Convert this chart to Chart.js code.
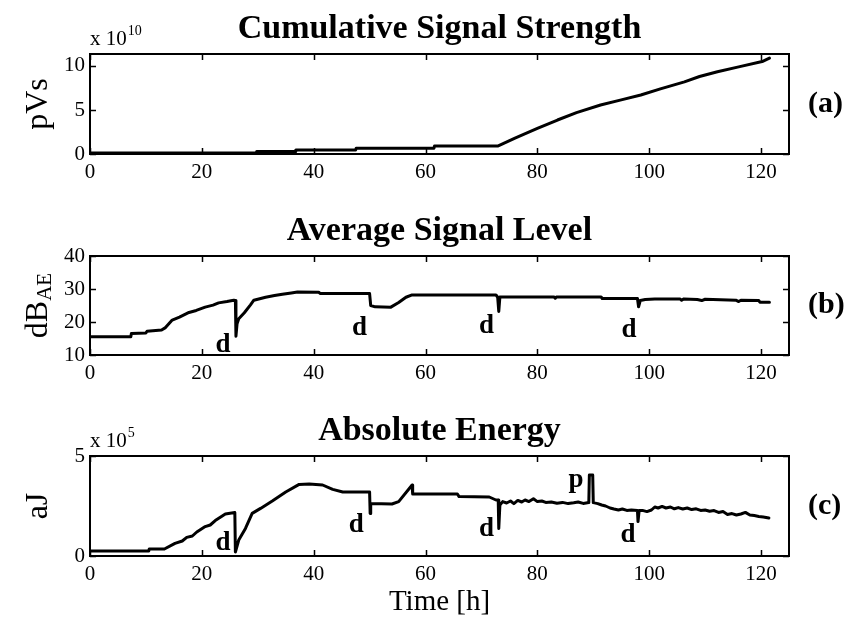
<!DOCTYPE html>
<html lang="en">
<head>
    <meta charset="UTF-8">
    <title>AE Parameters vs Time</title>
    <script src="https://cdn.jsdelivr.net/npm/chart.js"></script>
    <style>
        body { margin: 0; background: #fff; }
        #wrap { position: relative; width: 850px; height: 621px; }
        canvas { position: absolute; left: 0; }
    </style>
</head>
<body>
<div id="wrap">
    <canvas id="panel-a" width="850" height="200" style="top:0"></canvas>
    <canvas id="panel-b" width="850" height="200" style="top:200px"></canvas>
    <canvas id="panel-c" width="850" height="221" style="top:400px"></canvas>
</div>
<script>
// shared time axis
const xTicks = [0, 20, 40, 60, 80, 100, 120];

// (a) cumulative signal strength, x 10^10 pVs
const cssHours  = [0, 29.7, 29.8, 36.7, 36.8, 47.5, 47.6, 61.5, 61.6, 73.0, 76.0, 80.0, 83.6, 87.0,
                   91.3, 95.0, 98.5, 102.0, 106.3, 109.0, 112.2, 116.0, 120.2, 121.5];
const cssValues = [0.1, 0.1, 0.27, 0.27, 0.46, 0.46, 0.65, 0.65, 0.9, 0.92, 1.8, 2.9, 3.86, 4.7,
                   5.57, 6.15, 6.7, 7.4, 8.2, 8.8, 9.35, 9.9, 10.5, 10.9];
const cssTicks  = [0, 5, 10];

// (b) average signal level, dB_AE
const aslHours  = [0, 7.3, 7.4, 10.0, 10.2, 12.8, 13.5, 14.7, 16.0, 17.7,
                   19.0, 20.6, 22.0, 23.0, 24.5, 25.7, 26.0, 26.1, 26.3, 26.6,
                   27.6, 28.7, 29.3, 31.4, 33.0, 34.4, 36.0, 37.1, 40.9, 41.2,
                   50.0, 50.2, 51.0, 53.8, 55.2, 56.5, 57.6, 72.6, 72.9, 73.1,
                   73.3, 83.0, 83.2, 83.4, 91.4, 91.6, 97.9, 98.1, 98.4, 99.3,
                   101.0, 105.5, 105.8, 106.2, 108.6, 109.4, 110.0, 115.5, 116.0, 116.4,
                   119.6, 119.8, 121.5];
const aslValues = [15.5, 15.5, 16.5, 16.7, 17.2, 17.6, 18.3, 20.6, 21.5, 22.9,
                   23.5, 24.5, 25.1, 25.8, 26.2, 26.6, 26.5, 15.7, 19.5, 21.0,
                   22.8, 25.2, 26.6, 27.5, 28.0, 28.4, 28.8, 29.1, 29.0, 28.6,
                   28.6, 25.0, 24.6, 24.5, 25.9, 27.5, 28.2, 28.2, 27.5, 23.2,
                   27.6, 27.6, 27.2, 27.6, 27.6, 27.1, 27.1, 24.6, 26.5, 26.8,
                   27.0, 27.0, 26.6, 27.0, 26.8, 26.5, 26.9, 26.6, 26.2, 26.6,
                   26.5, 26.0, 26.0];
const aslTicks  = [10, 20, 30, 40];

// (c) absolute energy, x 10^5 aJ
const aeHours  = [0, 10.5, 10.6, 13.3, 15.2, 16.5, 17.3, 18.3, 19.1, 20.6,
                  21.5, 22.4, 24.2, 25.9, 26.0, 26.6, 27.8, 29.0, 30.5, 32.6,
                  35.0, 37.4, 39.2, 41.6, 43.4, 45.2, 50.0, 50.1, 50.2, 54.0,
                  55.2, 57.6, 57.7, 65.7, 66.0, 71.4, 72.6, 73.0, 73.1, 73.3,
                  73.8, 74.5, 75.2, 75.8, 76.5, 77.2, 77.8, 78.5, 79.3, 80.0,
                  80.8, 81.5, 82.5, 83.5, 84.5, 85.5, 86.5, 87.3, 88.2, 89.2,
                  89.3, 89.9, 90.0, 90.8, 91.5, 92.2, 93.0, 93.7, 94.5, 95.2,
                  96.0, 96.8, 97.9, 98.0, 98.2, 98.8, 99.6, 100.4, 101.0, 101.6,
                  102.3, 103.0, 103.8, 104.5, 105.2, 106.0, 106.8, 107.6, 108.4, 109.2,
                  110.0, 110.8, 111.6, 112.4, 113.2, 114.0, 114.8, 115.6, 116.4, 117.2,
                  118.0, 118.8, 119.6, 120.4, 121.4];
const aeValues = [0.25, 0.25, 0.35, 0.35, 0.63, 0.75, 0.93, 1.0, 1.2, 1.47,
                  1.55, 1.77, 2.1, 2.17, 0.2, 0.8, 1.38, 2.13, 2.38, 2.75,
                  3.2, 3.58, 3.6, 3.55, 3.33, 3.2, 3.2, 2.13, 2.63, 2.6,
                  2.72, 3.55, 3.1, 3.1, 2.97, 2.95, 2.8, 2.8, 1.38, 2.55,
                  2.72, 2.65, 2.75, 2.62, 2.78, 2.7, 2.8, 2.72, 2.86, 2.72,
                  2.75, 2.68, 2.7, 2.64, 2.68, 2.62, 2.66, 2.7, 2.63, 2.67,
                  4.05, 4.05, 2.67, 2.62, 2.55, 2.5, 2.4, 2.35, 2.3, 2.35,
                  2.28, 2.3, 2.27, 1.72, 2.27, 2.28, 2.22, 2.3, 2.45, 2.4,
                  2.48, 2.4, 2.45, 2.36, 2.42, 2.35, 2.4, 2.32, 2.36, 2.28,
                  2.3, 2.24, 2.27, 2.18, 2.22, 2.08, 2.12, 2.05, 2.1, 2.18,
                  2.05, 2.02, 1.98, 1.95, 1.9];
const aeTicks  = [0, 5];

// event markers: d = drop, p = peak (x in hours, y at text baseline)
const aslNotes = [
    { x: 23.8, y: 10.9, t: 'd' }, { x: 48.2, y: 16.1, t: 'd' },
    { x: 70.9, y: 16.7, t: 'd' }, { x: 96.4, y: 15.5, t: 'd' }
];
const aeNotes = [
    { x: 23.8, y: 0.3, t: 'd' }, { x: 47.6, y: 1.2, t: 'd' },
    { x: 70.9, y: 1.0, t: 'd' }, { x: 96.2, y: 0.7, t: 'd' },
    { x: 86.9, y: 3.45, t: 'p' }
];

const SERIF = '"Liberation Serif", "Times New Roman", serif';

// frame, inward ticks and all the text around each panel
const panelDecor = {
    id: 'panelDecor',
    afterDraw(chart, args, o) {
        const ctx = chart.ctx, a = chart.chartArea;
        const sx = chart.scales.x, sy = chart.scales.y;
        ctx.save();
        ctx.strokeStyle = '#000';
        ctx.fillStyle = '#000';

        ctx.lineWidth = 1.5;
        ctx.beginPath();
        sx.ticks.forEach(t => {
            const px = Math.round(sx.getPixelForValue(t.value)) + 0.5;
            ctx.moveTo(px, a.bottom); ctx.lineTo(px, a.bottom - 6);
            ctx.moveTo(px, a.top); ctx.lineTo(px, a.top + 6);
        });
        sy.ticks.forEach(t => {
            const py = Math.round(sy.getPixelForValue(t.value)) + 0.5;
            ctx.moveTo(a.left, py); ctx.lineTo(a.left + 6, py);
            ctx.moveTo(a.right, py); ctx.lineTo(a.right - 6, py);
        });
        ctx.stroke();

        ctx.lineWidth = 2;
        ctx.strokeRect(a.left, a.top, a.right - a.left, a.bottom - a.top);

        const midX = (a.left + a.right) / 2, midY = (a.top + a.bottom) / 2;

        ctx.textAlign = 'center';
        ctx.textBaseline = 'alphabetic';
        ctx.font = 'bold 34px ' + SERIF;
        ctx.fillText(o.title, midX, a.top - 16);

        if (o.exp) {
            ctx.textAlign = 'left';
            ctx.font = '21px ' + SERIF;
            ctx.fillText('x 10', a.left, a.top - 9);
            const w = ctx.measureText('x 10').width;
            ctx.font = '14px ' + SERIF;
            ctx.fillText(o.exp, a.left + w + 1, a.top - 19);
        }

        // rotated y label, optional subscript
        ctx.save();
        ctx.translate(47, midY);
        ctx.rotate(-Math.PI / 2);
        ctx.textAlign = 'left';
        ctx.font = '32px ' + SERIF;
        const w1 = ctx.measureText(o.ylabel).width;
        let w2 = 0;
        if (o.ysub) {
            ctx.font = '21px ' + SERIF;
            w2 = ctx.measureText(o.ysub).width;
        }
        const x0 = -(w1 + w2) / 2;
        ctx.font = '32px ' + SERIF;
        ctx.fillText(o.ylabel, x0, 0);
        if (o.ysub) {
            ctx.font = '21px ' + SERIF;
            ctx.fillText(o.ysub, x0 + w1, 4);
        }
        ctx.restore();

        ctx.textAlign = 'left';
        ctx.textBaseline = 'middle';
        ctx.font = 'bold 30px ' + SERIF;
        ctx.fillText(o.tag, 808, midY);

        ctx.textAlign = 'center';
        ctx.textBaseline = 'alphabetic';
        ctx.font = 'bold 27px ' + SERIF;
        (o.notes || []).forEach(n => {
            ctx.fillText(n.t, sx.getPixelForValue(n.x), sy.getPixelForValue(n.y));
        });

        if (o.xlabel) {
            ctx.font = '29px ' + SERIF;
            ctx.fillText(o.xlabel, midX, a.bottom + 54);
        }
        ctx.restore();
    }
};

function makePanel(id, hours, values, yMin, yMax, yTicks, top, bottom, decor) {
    const canvas = document.getElementById(id);
    const h = canvas.height;
    const tickFont = { family: SERIF, size: 21 };
    return new Chart(canvas, {
        type: 'line',
        data: {
            datasets: [{
                data: hours.map((x, i) => ({ x: x, y: values[i] })),
                borderColor: '#000',
                borderWidth: 3,
                pointRadius: 0,
                tension: 0,
                borderJoinStyle: 'round',
                borderCapStyle: 'round'
            }]
        },
        options: {
            responsive: false,
            animation: false,
            layout: { padding: { top: top, right: 61, left: 0, bottom: 0 } },
            plugins: {
                legend: { display: false },
                tooltip: { enabled: false },
                panelDecor: decor
            },
            scales: {
                x: {
                    type: 'linear', min: 0, max: 125,
                    grid: { display: false, drawTicks: false },
                    border: { display: false },
                    ticks: { color: '#000', font: tickFont, padding: 6, maxRotation: 0 },
                    afterBuildTicks: s => { s.ticks = xTicks.map(v => ({ value: v })); },
                    afterFit: s => { s.height = h - bottom; }
                },
                y: {
                    min: yMin, max: yMax,
                    grid: { display: false, drawTicks: false },
                    border: { display: false },
                    ticks: { color: '#000', font: tickFont, padding: 5 },
                    afterBuildTicks: s => { s.ticks = yTicks.map(v => ({ value: v })); },
                    afterFit: s => { s.width = 90; }
                }
            }
        },
        plugins: [panelDecor]
    });
}

makePanel('panel-a', cssHours, cssValues, 0, 11.36, cssTicks, 54, 154, {
    title: 'Cumulative Signal Strength', exp: '10', ylabel: 'pVs', tag: '(a)'
});
makePanel('panel-b', aslHours, aslValues, 10, 40, aslTicks, 56, 155, {
    title: 'Average Signal Level', ylabel: 'dB', ysub: 'AE', tag: '(b)', notes: aslNotes
});
makePanel('panel-c', aeHours, aeValues, 0, 5, aeTicks, 56, 156, {
    title: 'Absolute Energy', exp: '5', ylabel: 'aJ', tag: '(c)', notes: aeNotes, xlabel: 'Time [h]'
});
</script>
</body>
</html>
